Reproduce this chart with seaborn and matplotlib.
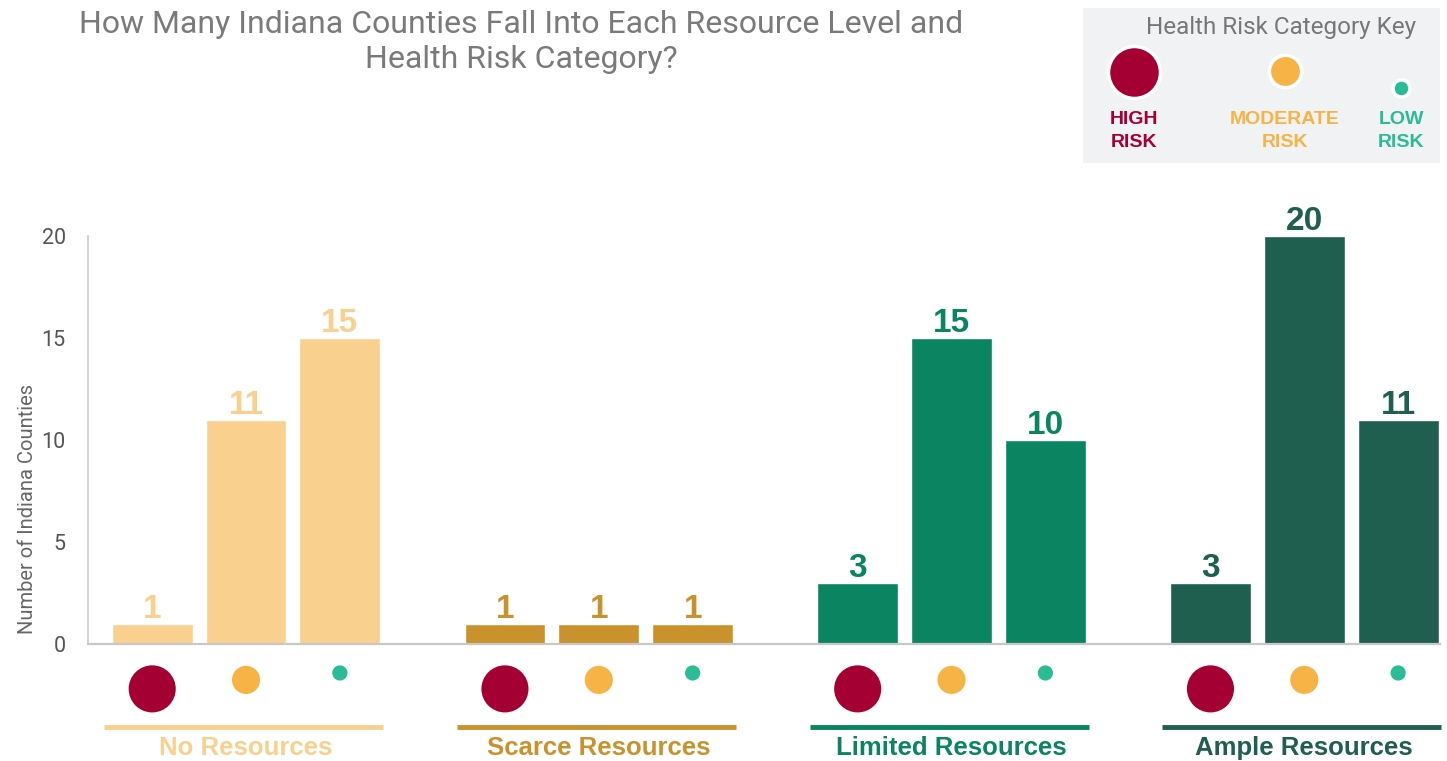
import numpy as np
import pandas as pd
import matplotlib
matplotlib.use("Agg")
import matplotlib.pyplot as plt
import matplotlib.transforms as mtransforms
import seaborn as sns

# ---------------- data ----------------
resources = ["No Resources", "Scarce Resources", "Limited Resources", "Ample Resources"]
risks = ["High", "Moderate", "Low"]
no_resources = [1, 11, 15]
scarce_resources = [1, 1, 1]
limited_resources = [3, 15, 10]
ample_resources = [3, 20, 11]
y_ticks = [0, 5, 10, 15, 20]
title = "How Many Indiana Counties Fall Into Each Resource Level and\nHealth Risk Category?"
y_label = "Number of Indiana Counties"
key_title = "Health Risk Category Key"
key_labels = ["HIGH\nRISK", "MODERATE\nRISK", "LOW\nRISK"]

# ---------------- styles ----------------
res_colors = {"No Resources": "#FAD08F", "Scarce Resources": "#C9922C",
              "Limited Resources": "#0B8462", "Ample Resources": "#1F5F4F"}
risk_colors = {"High": "#A50034", "Moderate": "#F7B445", "Low": "#2ABB97"}
risk_sizes = {"High": 1150, "Moderate": 410, "Low": 120}
risk_yoff = {"High": -2.2, "Moderate": -1.76, "Low": -1.42}
GROUP_STEP = 3.665
INNER_STEP = 0.975
BAR_W = 0.84

counts = [no_resources, scarce_resources, limited_resources, ample_resources]
rows = []
for g, (res, vals) in enumerate(zip(resources, counts)):
    for i, (rk, v) in enumerate(zip(risks, vals)):
        rows.append({"resource": res, "risk": rk, "count": v,
                     "pos": g * GROUP_STEP + i * INNER_STEP})
df = pd.DataFrame(rows)
df["dot_y"] = df["risk"].map(risk_yoff)

sns.set_theme(style="white")
plt.rcParams["font.family"] = ["Roboto", "DejaVu Sans"]

fig = plt.figure(figsize=(14.47, 7.61), dpi=100)
ax = fig.add_axes([88 / 1447, 1 - 644 / 761, (1440 - 88) / 1447, (644 - 236) / 761])

sns.barplot(data=df, x="pos", y="count", hue="resource", palette=res_colors,
            native_scale=True, width=BAR_W / INNER_STEP, dodge=False, legend=False,
            saturation=1, ax=ax)

# risk dots under bars
sns.scatterplot(data=df, x="pos", y="dot_y", hue="risk", size="risk",
                palette=risk_colors, sizes=risk_sizes, legend=False,
                linewidth=0, clip_on=False, ax=ax)

ax.set_xlim(-0.667, 13.38)
ax.set_ylim(0, 20)
ax.set_yticks(y_ticks)
ax.set_yticklabels([str(t) for t in y_ticks], color="#555555", fontsize=15.5,
                   fontweight="normal")
ax.tick_params(axis="y", length=0, pad=16)
ax.set_xticks([])
ax.set_xlabel("")
ax.set_ylabel(y_label, color="#666666", fontsize=14.5, fontweight="normal")
ax.yaxis.set_label_coords(-0.038, 0.33)
for s in ["top", "right"]:
    ax.spines[s].set_visible(False)
ax.spines["left"].set_color("#D0D0D0")
ax.spines["bottom"].set_color("#C8C8C8")
ax.spines["left"].set_linewidth(1.3)
ax.spines["bottom"].set_linewidth(1.6)

# value labels
for _, r in df.iterrows():
    ax.annotate(str(r["count"]), (r["pos"], r["count"]), xytext=(0, 4),
                textcoords="offset points", ha="center", va="baseline",
                fontsize=24, fontweight="bold", color=res_colors[r["resource"]],
                family=["Liberation Sans", "DejaVu Sans"], annotation_clip=False)

# group underlines and labels
trans = mtransforms.blended_transform_factory(ax.transData, ax.transAxes)
for g, res in enumerate(resources):
    p0 = g * GROUP_STEP
    p2 = p0 + 2 * INNER_STEP
    ax.plot([p0 - 0.5, p2 + 0.45], [-0.203, -0.203], transform=trans,
            color=res_colors[res], lw=3.5, clip_on=False, solid_capstyle="butt")
    ax.text((p0 + p2) / 2, -0.255, res, transform=trans, ha="center", va="center",
            fontsize=18.5, fontweight="bold", color=res_colors[res],
            family=["Liberation Sans", "DejaVu Sans"])

# title
fig.text(521 / 1447, 1 - 42 / 761, title, ha="center", va="center",
         fontsize=23, color="#7A7A7A", fontweight="normal", linespacing=1.3)

# key box
kax = fig.add_axes([1083 / 1447, 1 - 163 / 761, 357 / 1447, 155 / 761])
kax.set_facecolor("#F1F2F4")
kax.set_xlim(0, 357)
kax.set_ylim(155, 0)
for s in kax.spines.values():
    s.set_visible(False)
kax.set_xticks([])
kax.set_yticks([])
kax.text(198, 19, key_title, ha="center", va="center", fontsize=17.5,
         color="#777777", fontweight="normal")
key_x = [51, 202, 318]
key_y = [64, 63, 80]
key_s = [1400, 540, 150]
for rk, kx, ky, ks, lab in zip(risks, key_x, key_y, key_s, key_labels):
    kax.scatter([kx], [ky], s=ks, color=risk_colors[rk], edgecolor="white",
                linewidth=2.5, zorder=3)
    kax.text(kx, 123, lab, ha="center", va="center", fontsize=14,
             fontweight="bold", color=risk_colors[rk], linespacing=1.45,
             family=["Liberation Sans", "DejaVu Sans"])

fig.savefig("out.png", dpi=100)
